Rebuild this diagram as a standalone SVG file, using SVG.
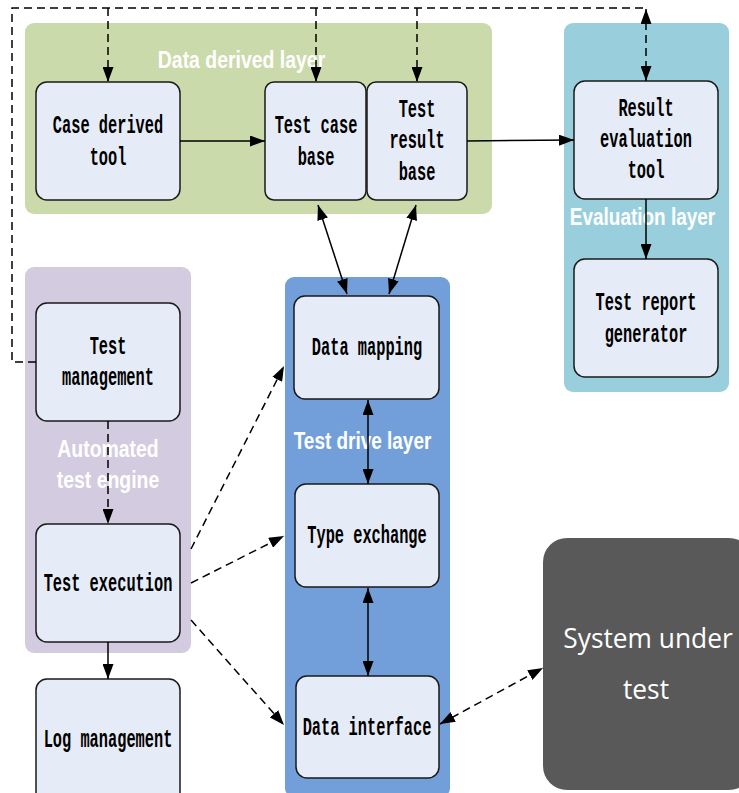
<svg xmlns="http://www.w3.org/2000/svg" width="739" height="793" viewBox="0 0 739 793">
<defs>
<style>
.node{fill:#E6ECF7;stroke:#1a1a1a;stroke-width:1.5}
.nt{font-family:"Liberation Mono",monospace;font-size:25px;font-weight:bold;fill:#000;text-anchor:middle}
.lt{font-family:"Liberation Sans",Arial,sans-serif;font-weight:bold;font-size:24px;fill:#fff;text-anchor:middle}
.st{font-family:"Open Sans",sans-serif;font-size:28px;fill:#fff;text-anchor:middle}
.ln{fill:none;stroke:#000;stroke-width:1.5}
.ds{stroke-dasharray:8 5}
</style>
<marker id="ah" markerUnits="userSpaceOnUse" markerWidth="15" markerHeight="11" refX="15" refY="5.5" orient="auto-start-reverse">
<path d="M0,0 L15,5.5 L0,11 z" fill="#000"/>
</marker>
</defs>
<rect width="739" height="793" fill="#fff"/>
<g id="layers">
<rect id="layer-data-derived" x="25" y="23" width="467" height="191" rx="9" fill="#CBDAAB"/>
<rect id="layer-evaluation" x="564" y="23" width="165" height="369" rx="9" fill="#99CFDD"/>
<rect id="layer-engine" x="25" y="267" width="166" height="386" rx="9" fill="#D3CBE0"/>
<rect id="layer-drive" x="285" y="277" width="165" height="520" rx="9" fill="#729FDA"/>
<g transform="translate(241.5 0) scale(0.81 1)"><text class="lt" x="0" y="68">Data derived layer</text></g>
<g transform="translate(642.5 0) scale(0.79 1)"><text class="lt" x="0" y="225">Evaluation layer</text></g>
<g transform="translate(108 0) scale(0.81 1)"><text class="lt" x="0" y="457">Automated</text><text class="lt" x="0" y="488">test engine</text></g>
<g transform="translate(362.5 0) scale(0.79 1)"><text class="lt" x="0" y="449">Test drive layer</text></g>
</g>
<g id="case-derived-tool">
<rect class="node" x="36" y="82" width="144" height="118" rx="11"/>
<g transform="translate(108 0) scale(0.613 1)"><text class="nt" x="0" y="133">Case derived</text><text class="nt" x="0" y="165">tool</text></g>
</g>
<g id="test-case-base">
<rect class="node" x="265" y="82" width="101" height="118" rx="9"/>
<g transform="translate(316 0) scale(0.613 1)"><text class="nt" x="0" y="133">Test case</text><text class="nt" x="0" y="165">base</text></g>
</g>
<g id="test-result-base">
<rect class="node" x="367" y="82" width="100" height="118" rx="9"/>
<g transform="translate(417 0) scale(0.613 1)"><text class="nt" x="0" y="117">Test</text><text class="nt" x="0" y="148">result</text><text class="nt" x="0" y="180">base</text></g>
</g>
<g id="result-evaluation-tool">
<rect class="node" x="574" y="81" width="144" height="118" rx="11"/>
<g transform="translate(646 0) scale(0.613 1)"><text class="nt" x="0" y="116">Result</text><text class="nt" x="0" y="147">evaluation</text><text class="nt" x="0" y="178">tool</text></g>
</g>
<g id="test-report-generator">
<rect class="node" x="574" y="259" width="144" height="118" rx="11"/>
<g transform="translate(646 0) scale(0.613 1)"><text class="nt" x="0" y="310">Test report</text><text class="nt" x="0" y="342">generator</text></g>
</g>
<g id="test-management">
<rect class="node" x="36" y="303" width="144" height="118" rx="11"/>
<g transform="translate(108 0) scale(0.613 1)"><text class="nt" x="0" y="354">Test</text><text class="nt" x="0" y="385">management</text></g>
</g>
<g id="test-execution">
<rect class="node" x="36" y="524" width="144" height="118" rx="11"/>
<g transform="translate(108 0) scale(0.613 1)"><text class="nt" x="0" y="591">Test execution</text></g>
</g>
<g id="log-management">
<rect class="node" x="36" y="679" width="144" height="125" rx="11"/>
<g transform="translate(108 0) scale(0.613 1)"><text class="nt" x="0" y="747">Log management</text></g>
</g>
<g id="data-mapping">
<rect class="node" x="294" y="296" width="145" height="103" rx="11"/>
<g transform="translate(367 0) scale(0.613 1)"><text class="nt" x="0" y="355">Data mapping</text></g>
</g>
<g id="type-exchange">
<rect class="node" x="295" y="484" width="144" height="103" rx="11"/>
<g transform="translate(367 0) scale(0.613 1)"><text class="nt" x="0" y="543">Type exchange</text></g>
</g>
<g id="data-interface">
<rect class="node" x="296" y="676" width="143" height="102" rx="11"/>
<g transform="translate(367 0) scale(0.613 1)"><text class="nt" x="0" y="735">Data interface</text></g>
</g>
<g id="system-under-test">
<rect x="543" y="538" width="210" height="252" rx="24" fill="#595959"/>
<g transform="translate(648 0) scale(0.94 1)"><text class="st" x="0" y="648">System under</text></g>
<g transform="translate(646 0) scale(0.94 1)"><text class="st" x="0" y="699">test</text></g>
</g>
<g id="connectors">
<line class="ln" x1="180" y1="141" x2="265" y2="141" marker-end="url(#ah)"/>
<line class="ln" x1="467" y1="141" x2="574" y2="140" marker-end="url(#ah)"/>
<line class="ln" x1="646" y1="199" x2="646" y2="259" marker-end="url(#ah)"/>
<line class="ln" x1="318" y1="205" x2="347" y2="294" marker-start="url(#ah)" marker-end="url(#ah)"/>
<line class="ln" x1="416" y1="205" x2="389" y2="294" marker-start="url(#ah)" marker-end="url(#ah)"/>
<line class="ln" x1="368" y1="400" x2="368" y2="484" marker-start="url(#ah)" marker-end="url(#ah)"/>
<line class="ln" x1="368" y1="588" x2="368" y2="676" marker-start="url(#ah)" marker-end="url(#ah)"/>
<line class="ln" x1="108" y1="642" x2="108" y2="679" marker-end="url(#ah)"/>
<line class="ln ds" x1="108" y1="421" x2="108" y2="524" marker-end="url(#ah)"/>
<line class="ln ds" x1="191" y1="549" x2="284" y2="366" marker-end="url(#ah)"/>
<line class="ln ds" x1="191" y1="583" x2="284" y2="536" marker-end="url(#ah)"/>
<line class="ln ds" x1="191" y1="620" x2="284" y2="725" marker-end="url(#ah)"/>
<line class="ln ds" x1="440" y1="724" x2="543" y2="668" marker-start="url(#ah)" marker-end="url(#ah)"/>
<path class="ln ds" d="M36,362 H12 V8 H646"/>
<line class="ln ds" x1="646" y1="9" x2="646" y2="81" marker-start="url(#ah)" marker-end="url(#ah)"/>
<line class="ln ds" x1="108" y1="8" x2="108" y2="82" marker-end="url(#ah)"/>
<line class="ln ds" x1="316" y1="8" x2="316" y2="82" marker-end="url(#ah)"/>
<line class="ln ds" x1="417" y1="8" x2="417" y2="82" marker-end="url(#ah)"/>
</g>
</svg>
